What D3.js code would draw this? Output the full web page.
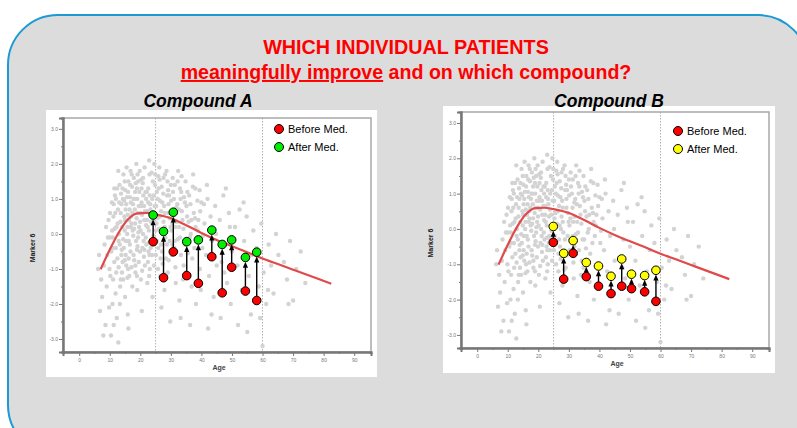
<!DOCTYPE html>
<html>
<head>
<meta charset="utf-8">
<script src="https://cdn.jsdelivr.net/npm/d3@7"></script>
<style>
  body { margin: 0; background: #fff; }
  svg { display: block; }
</style>
</head>
<body>
<div id="chart"></div>
<script>
// background cohort (same in both panels): [age, marker 6]
const cohort = [
  [6.5,-0.6],[7.2,-1.3],[8.1,-0.9],[6.8,-2.2],[7.5,-1.8],[8.6,-2.6],[9.0,-1.5],[8.3,-0.3],[9.4,-0.1],[7.9,-2.9],[9.8,-2.1],[6.2,-1.0],[8.8,0.2],
  [10.2,-1.2],[10.5,-0.5],[10.8,0.1],[11.2,0.5],[11.5,-0.8],[11.9,-1.7],[12.3,-2.4],[10.4,-2.9],[12.6,0.3],[12.9,-0.2],[13.1,0.9],[11.7,1.1],[12.1,-1.1],[13.4,-1.5],[10.9,-2.0],[12.8,-3.1],[11.3,-2.6],[13.6,0.6],[10.1,0.6],[12.4,1.3],[13.8,-0.6],[11.0,-0.1],[13.3,-2.0],[12.8,1.8],
  [14.1,0.2],[14.3,1.0],[14.6,-0.4],[14.9,1.5],[15.2,0.7],[15.4,-0.9],[15.7,0.0],[16.0,1.2],[16.3,0.4],[16.6,-0.3],[16.9,0.9],[14.4,-1.3],[15.0,-1.8],[15.9,-2.3],[16.4,-1.2],[17.2,1.7],[17.5,0.1],[17.8,-0.6],[14.8,0.5],[15.5,1.9],[16.2,-0.7],[17.0,0.5],[15.3,-0.2],[16.7,1.4],[14.2,-0.8],[17.4,-1.5],[16.1,-2.7],
  [18.1,1.0],[18.3,0.3],[18.6,-0.2],[18.9,1.3],[19.2,0.6],[19.5,-0.8],[19.8,1.8],[20.1,0.1],[20.4,0.9],[20.7,-0.4],[21.0,1.1],[21.3,0.4],[18.4,-1.1],[19.0,-1.6],[20.2,-1.3],[21.5,-0.9],[18.7,2.0],[20.9,1.6],[19.6,0.2],[21.8,-0.1],[20.5,-2.2],[18.2,0.7],[19.3,1.5],[21.2,0.8],
  [22.1,1.2],[22.4,0.2],[22.7,-0.5],[23.0,1.7],[23.3,0.7],[23.6,-0.2],[23.9,1.0],[24.2,0.4],[24.5,-0.9],[24.8,1.4],[22.3,-1.4],[23.1,-1.0],[24.0,-1.8],[25.0,0.1],[22.9,2.1],[24.6,2.0],[22.6,0.9],[23.8,-0.6],[25.2,0.8],[22.0,-0.3],
  [26.0,1.3],[26.4,0.5],[26.8,-0.3],[27.2,0.9],[27.6,1.6],[28.0,0.2],[28.4,-0.7],[28.8,1.1],[29.2,0.6],[29.6,-0.2],[30.0,1.4],[26.6,-1.2],[27.9,-1.6],[29.0,-1.1],[30.3,-0.6],[26.2,1.9],[28.6,1.8],[30.5,0.3],[27.4,0.0],[29.8,-2.5],[26.9,-2.1],
  [31.0,1.0],[31.4,0.2],[31.8,-0.5],[32.2,1.5],[32.6,0.7],[33.0,-0.1],[33.4,1.2],[33.8,0.4],[34.2,-0.9],[34.6,0.9],[35.0,-0.3],[31.6,-1.4],[32.8,-1.9],[34.0,-1.3],[32.4,1.8],[34.8,1.5],[33.2,-2.4],[31.2,0.6],[35.3,0.5],
  [36.0,1.1],[36.5,0.0],[37.0,-0.7],[37.5,0.6],[38.0,1.3],[38.5,-0.2],[39.0,0.4],[39.5,-1.0],[40.0,0.9],[36.8,-1.5],[38.2,-2.0],[39.8,-1.6],[37.3,1.7],[40.3,-0.4],[36.3,-2.6],[38.8,0.1],
  [41.0,0.3],[41.5,-0.6],[42.0,1.0],[42.5,-1.2],[43.0,0.5],[43.5,-0.2],[44.0,-1.8],[44.5,0.8],[45.0,-0.9],[41.8,1.4],[43.3,-2.3],[44.8,0.0],[42.2,-2.7],
  [46.0,0.4],[46.6,-0.8],[47.2,1.1],[47.8,-0.3],[48.4,-1.4],[49.0,0.6],[49.6,-2.0],[50.0,-0.5],[46.3,-2.4],[48.0,1.3],[49.3,0.2],[47.5,-1.1],
  [51.0,0.2],[51.8,-0.9],[52.5,0.7],[53.2,-1.6],[54.0,-0.2],[54.8,0.5],[55.5,-1.2],[56.2,-2.3],[57.0,0.1],[52.0,-2.6],[53.8,0.9],[56.5,-0.6],[55.0,-2.8],
  [58.0,-0.4],[58.8,-1.5],[59.6,0.3],[60.4,-1.1],[61.2,-2.0],[62.0,-0.3],[62.8,-0.9],[63.6,-1.7],[64.4,0.0],[65.2,-0.6],[60.0,-3.2],[61.8,-1.6],[59.2,-2.4],
  [67.0,-0.8],[68.0,-1.3],[69.0,-0.2],[70.0,-1.9],[71.0,-1.0],[72.5,-0.5],[74.0,-1.4],[68.5,-2.0],
  // dense core
  [14.5,1.7],[16.8,1.8],[19.1,1.7],[21.4,1.9],[23.7,1.75],[25.9,1.65],[28.1,1.7],[30.6,1.6],[33.5,1.65],[17.9,1.6],[20.3,1.55],
  [11.5,1.3],[13.2,1.4],[15.1,1.25],[17.3,1.35],[19.7,1.2],[20.8,1.45],[22.6,1.3],[24.1,1.5],[25.4,1.2],[27.0,1.35],[29.1,1.25],[31.3,1.4],[33.0,1.3],[35.4,1.2],[37.2,1.35],[39.4,1.25],[16.1,1.5],[18.5,1.45],[26.3,1.55],
  [10.7,0.9],[12.0,1.0],[13.8,0.85],[15.6,1.05],[17.6,0.85],[19.0,1.0],[20.2,0.8],[21.9,1.0],[23.2,0.85],[25.7,1.0],[27.8,0.8],[30.1,0.95],[32.1,0.85],[34.3,1.05],[36.4,0.85],[38.7,0.95],[40.8,0.85],[14.7,0.95],[24.4,1.1],[29.4,1.1],
  [9.6,0.4],[11.8,0.6],[13.5,0.35],[15.9,0.55],[17.1,0.3],[18.8,0.45],[20.6,0.55],[22.2,0.4],[23.5,0.35],[25.6,0.45],[27.6,0.35],[29.7,0.45],[31.9,0.35],[33.6,0.65],[35.8,0.35],[37.9,0.45],[39.6,0.65],[12.7,0.7],[16.5,0.7],[21.6,0.65],[26.8,0.65],
  [10.0,-0.1],[11.6,0.15],[13.0,0.0],[14.4,-0.15],[15.8,0.2],[17.7,-0.05],[19.4,0.05],[21.1,-0.2],[22.8,0.1],[24.3,-0.05],[26.1,0.15],[28.2,-0.1],[30.2,0.1],[32.3,-0.15],[34.1,0.15],[36.2,-0.1],[38.1,0.2],[40.5,-0.05],[16.9,0.2],[25.4,-0.2],
  [9.2,-0.6],[10.9,-0.4],[12.5,-0.7],[13.9,-0.45],[15.2,-0.6],[16.8,-0.5],[18.0,-0.75],[19.9,-0.5],[21.2,-0.65],[22.5,-0.8],[23.4,-0.4],[25.1,-0.6],[27.1,-0.5],[29.3,-0.75],[31.1,-0.4],[33.3,-0.6],[35.6,-0.55],[37.7,-0.4],[14.9,-0.75],[19.1,-0.35],
  [9.9,-1.0],[11.1,-1.3],[12.9,-0.95],[14.0,-1.1],[15.8,-1.25],[17.1,-0.95],[18.9,-1.2],[20.6,-1.05],[22.9,-1.2],[25.8,-1.0],[28.5,-1.15],[31.5,-0.95],[34.8,-1.1],[13.6,-1.3],
  [12.2,0.2],[13.7,1.15],[14.9,0.1],[15.4,0.85],[16.2,-0.2],[16.6,1.05],[17.4,0.6],[18.0,0.15],[18.3,1.2],[18.9,-0.45],[19.5,0.8],[19.9,0.35],[20.4,1.3],[20.9,0.0],
  [21.3,-0.45],[21.7,1.2],[22.3,0.65],[22.8,-0.25],[23.1,1.1],[23.8,0.55],[24.0,-0.3],[24.7,0.8],[25.3,0.3],[25.9,-0.4],[26.4,0.95],[27.0,0.1],[27.5,1.15],[28.0,0.6],
  [28.7,-0.3],[29.2,0.85],[29.9,0.2],[30.7,1.2],[31.3,-0.2],[31.8,0.75],[32.7,0.2],[33.2,1.0],[34.5,-0.3],[35.1,0.8],[36.7,0.4],[13.3,-0.3],[12.0,-0.4],[11.3,0.85],
  [15.0,0.4],[17.8,1.0],[19.3,-0.1],[20.0,0.6],[21.9,0.25],[23.0,-0.6],[26.6,-0.7],[28.9,1.5],[30.5,-0.3],[14.2,1.3],[18.4,-0.9],[16.0,-1.0],[24.9,1.7],[27.3,-0.85]
];

// smoothed trend line
const trendAge = [7, 10, 13, 16, 19, 22, 25, 30, 35, 40, 45, 50, 55, 60, 65, 70, 75, 82.5];
const trendVal = [-1.01, -0.45, 0.05, 0.42, 0.59, 0.6, 0.56, 0.45, 0.25, 0.03, -0.17, -0.35, -0.52, -0.7, -0.86, -1.02, -1.18, -1.42];

// individual patients
const patientAgeA = [24.2, 27.6, 30.8, 35.2, 39.0, 43.4, 46.8, 49.9, 54.4, 58.1];
const beforeA = [-0.22, -1.25, -0.51, -1.19, -1.41, -0.65, -1.68, -0.95, -1.63, -1.90];
const afterA = [0.54, 0.07, 0.62, -0.22, -0.17, 0.11, -0.30, -0.17, -0.67, -0.52];

const patientAgeB = [24.9, 28.3, 31.4, 35.7, 39.7, 43.8, 47.3, 50.5, 54.8, 58.5];
const beforeB = [-0.38, -1.42, -0.69, -1.35, -1.62, -1.83, -1.62, -1.69, -1.78, -2.05];
const afterB = [0.07, -0.69, -0.33, -0.95, -1.05, -1.34, -0.85, -1.28, -1.32, -1.17];

const ageTicks = [0, 10, 20, 30, 40, 50, 60, 70, 80, 90];
const markerTicks = [-3, -2, -1, 0, 1, 2, 3];
const cutoffs = [25, 60];
const legendLabels = ["Before Med.", "After Med."];

const W = 797, H = 428;
const svg = d3.select("#chart").append("svg").attr("width", W).attr("height", H);
const sans = "'Liberation Sans', Arial, sans-serif";

//#region frame + titles
svg.append("rect")
  .attr("x", 8).attr("y", 15).attr("width", 800).attr("height", 440)
  .attr("rx", 50).attr("ry", 50)
  .attr("fill", "#dcdcdc").attr("stroke", "#1b9ad6").attr("stroke-width", 2);

svg.append("text")
  .attr("x", 406).attr("y", 54)
  .attr("text-anchor", "middle")
  .style("font-family", sans).style("font-weight", "bold").style("font-size", "19.8px")
  .attr("fill", "#ff0000")
  .text("WHICH INDIVIDUAL PATIENTS");

const line2 = svg.append("text")
  .attr("x", 406).attr("y", 79)
  .attr("text-anchor", "middle")
  .style("font-family", sans).style("font-weight", "bold").style("font-size", "19.6px")
  .attr("fill", "#ff0000");
line2.append("tspan").style("text-decoration", "underline").text("meaningfully improve");
line2.append("tspan").text(" and on which compound?");
//#endregion

const charts = [
  {
    title: "Compound A", titleX: 198, titleY: 107,
    panel: [46, 110, 331, 267],
    plot: { left: 63, top: 118, right: 371, bottom: 352 },
    ages: patientAgeA, before: beforeA, after: afterA, afterColor: "#00ee00",
    legend: { x: 279, y: 129 }
  },
  {
    title: "Compound B", titleX: 609, titleY: 107,
    panel: [443, 106, 332, 267],
    plot: { left: 461, top: 112, right: 769, bottom: 348 },
    ages: patientAgeB, before: beforeB, after: afterB, afterColor: "#ffff00",
    legend: { x: 678, y: 131 }
  }
];

charts.forEach(c => {
  const { left, top, right, bottom } = c.plot;
  const x = d3.scaleLinear().domain([-5.3, 95.5]).range([left, right]);
  const y = d3.scaleLinear().domain([-3.37, 3.31]).range([bottom, top]);

  svg.append("rect")
    .attr("x", c.panel[0]).attr("y", c.panel[1])
    .attr("width", c.panel[2]).attr("height", c.panel[3])
    .attr("fill", "#fff");

  svg.append("text")
    .attr("x", c.titleX).attr("y", c.titleY)
    .attr("text-anchor", "middle")
    .style("font-family", sans)
    .style("font-weight", "bold").style("font-style", "italic").style("font-size", "17.5px")
    .text(c.title);

  const g = svg.append("g");

  // cut-off guides
  g.selectAll(".cut").data(cutoffs).enter().append("line")
    .attr("x1", d => x(d)).attr("x2", d => x(d))
    .attr("y1", top).attr("y2", bottom)
    .attr("stroke", "#b0b0b0").attr("stroke-width", 1).attr("stroke-dasharray", "1.5,1.5");

  // cohort
  g.selectAll(".pt").data(cohort).enter().append("circle")
    .attr("cx", d => x(d[0])).attr("cy", d => y(d[1]))
    .attr("r", 2.2).attr("fill", "#d3d3d3");

  // trend
  const trend = d3.line().x(d => x(d[0])).y(d => y(d[1])).curve(d3.curveMonotoneX);
  g.append("path")
    .datum(trendAge.map((a, i) => [a, trendVal[i]]))
    .attr("d", trend)
    .attr("fill", "none").attr("stroke", "#e04a4a").attr("stroke-width", 2.2);

  // frame
  g.append("rect")
    .attr("x", left).attr("y", top).attr("width", right - left).attr("height", bottom - top)
    .attr("fill", "none").attr("stroke", "#a8a8a8").attr("stroke-width", 1.5);

  // axes
  const yAxis = d3.axisLeft(y).tickValues(markerTicks).tickSize(4).tickPadding(1)
    .tickFormat(d => d.toFixed(1));
  const yMinor = d3.axisLeft(y).tickValues(markerTicks.slice(0, -1).map(d => d + 0.5)).tickSize(2).tickFormat("");
  const xAxis = d3.axisBottom(x).tickValues(ageTicks).tickSize(4).tickPadding(2);
  const xMinor = d3.axisBottom(x).tickValues(ageTicks.map(d => d - 5).concat([95])).tickSize(2).tickFormat("");

  [[yAxis, `translate(${left},0)`], [yMinor, `translate(${left},0)`],
   [xAxis, `translate(0,${bottom})`], [xMinor, `translate(0,${bottom})`]].forEach(([ax, tr]) => {
    const a = g.append("g").attr("transform", tr).call(ax);
    a.select(".domain").attr("stroke", "#777").attr("stroke-width", 2);
    a.selectAll(".tick line").attr("stroke", "#777");
    a.selectAll("text").attr("fill", "#777").style("font-size", "5px").style("font-family", sans);
  });

  g.append("text")
    .attr("x", (left + right) / 2 + 2).attr("y", bottom + 18)
    .attr("text-anchor", "middle")
    .style("font-family", sans).style("font-weight", "bold").style("font-size", "7px")
    .attr("fill", "#444")
    .text("Age");

  g.append("text")
    .attr("transform", `translate(${left - 28},${y(-0.4)}) rotate(-90)`)
    .attr("text-anchor", "middle")
    .style("font-family", sans).style("font-weight", "bold").style("font-size", "7px")
    .attr("fill", "#222")
    .text("Marker 6");

  // patients: arrow from before to after
  const patients = c.ages.map((a, i) => ({ age: a, before: c.before[i], after: c.after[i] }));
  const r = 4.3;
  g.selectAll(".arrow").data(patients).enter().append("line")
    .attr("x1", d => x(d.age)).attr("x2", d => x(d.age))
    .attr("y1", d => y(d.before) - r).attr("y2", d => y(d.after) + r + 5)
    .attr("stroke", "#000").attr("stroke-width", 1.4);
  g.selectAll(".head").data(patients).enter().append("path")
    .attr("d", d => {
      const px = x(d.age), py = y(d.after) + r;
      return `M${px},${py} L${px - 2.6},${py + 6} L${px + 2.6},${py + 6} Z`;
    })
    .attr("fill", "#000");
  g.selectAll(".before").data(patients).enter().append("circle")
    .attr("cx", d => x(d.age)).attr("cy", d => y(d.before)).attr("r", r)
    .attr("fill", "#ff0000").attr("stroke", "#000").attr("stroke-width", 1);
  g.selectAll(".after").data(patients).enter().append("circle")
    .attr("cx", d => x(d.age)).attr("cy", d => y(d.after)).attr("r", r)
    .attr("fill", c.afterColor).attr("stroke", "#000").attr("stroke-width", 1);

  // legend
  const leg = g.append("g").attr("transform", `translate(${c.legend.x},${c.legend.y})`);
  leg.selectAll("circle").data(["#ff0000", c.afterColor]).enter().append("circle")
    .attr("cx", 0).attr("cy", (d, i) => i * 18).attr("r", 4.5)
    .attr("fill", d => d).attr("stroke", "#000").attr("stroke-width", 1);
  leg.selectAll("text").data(legendLabels).enter().append("text")
    .attr("x", 9).attr("y", (d, i) => i * 18 + 4)
    .style("font-family", sans).style("font-size", "11px")
    .text(d => d);
});
</script>
</body>
</html>
